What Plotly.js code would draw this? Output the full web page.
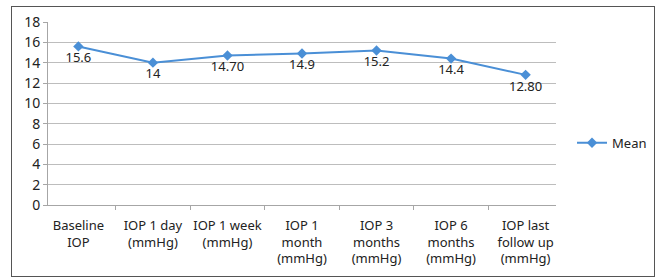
<!DOCTYPE html>
<html><head><meta charset="utf-8">
<script src="https://cdn.plot.ly/plotly-3.0.1.min.js"></script>
<style>
html,body{margin:0;padding:0;background:#fff;}
#wrap{position:relative;width:659px;height:280px;}
#chart{width:659px;height:280px;}
#frame{position:absolute;left:11px;top:6px;width:642px;height:269px;border:1.5px solid #555;pointer-events:none;}
</style>
</head><body>
<div id="wrap"><div id="chart"></div><div id="frame"></div></div>
<script>
var categories = ["Baseline<br>IOP","IOP 1 day<br>(mmHg)","IOP 1 week<br>(mmHg)","IOP 1<br>month<br>(mmHg)","IOP 3<br>months<br>(mmHg)","IOP 6<br>months<br>(mmHg)","IOP last<br>follow up<br>(mmHg)"];
var meanValues = [15.6, 14, 14.7, 14.9, 15.2, 14.4, 12.8];
var meanLabels = ["15.6","14","14.70","14.9","15.2","14.4","12.80"];
var yTicks = [0,2,4,6,8,10,12,14,16,18];

var font = "Noto Sans, Open Sans, sans-serif";
var trace = {
  x: categories, y: meanValues, text: meanLabels, name: "Mean",
  type: "scatter", mode: "lines+markers+text", textposition: "bottom center",
  textfont: {family: font, size: 13, color: "#222"},
  line: {color: "#4a8fd6", width: 2},
  marker: {symbol: "diamond", size: 8, color: "#4a8fd6"},
  cliponaxis: false
};
var layout = {
  width: 659, height: 280,
  margin: {l: 48, r: 103, t: 22, b: 75},
  paper_bgcolor: "#fff", plot_bgcolor: "#fff",
  font: {family: font, size: 13, color: "#222"},
  showlegend: true,
  legend: {xref: "container", yref: "container", x: 0.868, y: 0.49, xanchor: "left", yanchor: "middle",
    font: {size: 13, family: font}, bgcolor: "rgba(0,0,0,0)"},
  xaxis: {type: "category", showgrid: false, showline: true, linecolor: "#a6a6a6", linewidth: 1,
    ticks: "outside", tickson: "boundaries", ticklen: 4, tickcolor: "#a6a6a6", tickangle: 0,
    ticklabelstandoff: 8, zeroline: false, fixedrange: true},
  yaxis: {range: [0, 18], tickvals: yTicks, showgrid: true, gridcolor: "#bdbdbd", gridwidth: 1,
    showline: true, linecolor: "#a6a6a6", ticks: "outside", ticklen: 4, tickcolor: "#a6a6a6",
    zeroline: false, tickfont: {size: 14}, fixedrange: true}
};
Plotly.newPlot("chart", [trace], layout, {displayModeBar: false, staticPlot: true});
</script>
</body></html>
